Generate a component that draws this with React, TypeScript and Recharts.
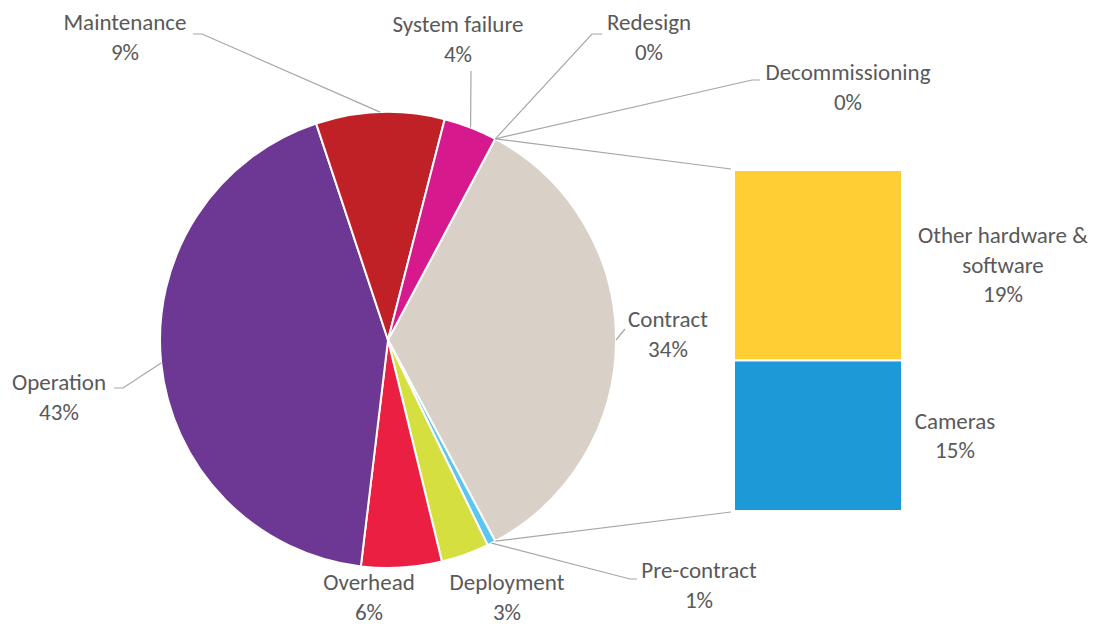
import React from "react";
import { Bar, BarChart, Cell, Pie, PieChart, XAxis, YAxis } from "recharts";

// pie slices, clockwise starting at the split-off slice
const PIE_NAMES = [
  "Contract",
  "Pre-contract",
  "Deployment",
  "Overhead",
  "Operation",
  "Maintenance",
  "System failure",
  "Redesign",
  "Decommissioning",
];
const PIE_VALUES = [34.4, 0.6, 3.4, 5.7, 43.0, 9.1, 3.8, 0, 0];
const PIE_COLORS = [
  "#D9D0C7",
  "#5CC6F1",
  "#D6DF40",
  "#EB1F42",
  "#6D3894",
  "#BF2127",
  "#D6198D",
  "#A5A5A5",
  "#7F7F7F",
];

// breakdown of "Contract", bottom to top
const BAR_NAMES = ["Cameras", "Other hardware & software"];
const BAR_VALUES = [15.2, 19.2];
const BAR_COLORS = ["#1B9AD7", "#FFCD34"];

const W = 1096;
const H = 624;
const PIE = { cx: 388, cy: 340, r: 228 };
const BAR = { left: 734, right: 902, top: 170, bottom: 511 };
const TEXT = "#595959";
const LEADER = "#A6A6A6";
const FONT = "Calibri, Carlito, Lato, sans-serif";
const FS = 23;
const LH = 29.5;
const NO_MARGIN = { top: 0, right: 0, bottom: 0, left: 0 };

// label placement: text centre x, first baseline y, leader polyline (label end)
const PIE_LABELS: Record<string, { x: number; y: number; lines: string[]; leader?: number[][] }> = {
  Contract: { x: 668, y: 327, lines: ["Contract"], leader: [[625, 329]] },
  "Pre-contract": { x: 699, y: 578, lines: ["Pre-contract"], leader: [[637, 579], [630, 579]] },
  Deployment: { x: 507, y: 590, lines: ["Deployment"] },
  Overhead: { x: 369, y: 590, lines: ["Overhead"] },
  Operation: { x: 59, y: 390, lines: ["Operation"], leader: [[114, 388], [123, 388]] },
  Maintenance: { x: 125, y: 30, lines: ["Maintenance"], leader: [[193, 34], [202, 34]] },
  "System failure": { x: 458, y: 32, lines: ["System failure"], leader: [[471, 71]] },
  Redesign: { x: 649, y: 30, lines: ["Redesign"], leader: [[602, 34], [592, 34]] },
  Decommissioning: { x: 848, y: 80, lines: ["Decommissioning"], leader: [[760, 80], [752, 80]] },
};
const BAR_LABELS: Record<string, { dx: number; lines: string[] }> = {
  Cameras: { dx: 53, lines: ["Cameras"] },
  "Other hardware & software": { dx: 101, lines: ["Other hardware &", "software"] },
};

const RAD = Math.PI / 180;
const polar = (cx: number, cy: number, r: number, a: number) => ({
  x: cx + r * Math.cos(-a * RAD),
  y: cy + r * Math.sin(-a * RAD),
});

const pieData = PIE_NAMES.map((name, i) => ({ name, value: PIE_VALUES[i] }));
const barData = [
  BAR_NAMES.reduce((row: Record<string, any>, n, i) => ({ ...row, [n]: BAR_VALUES[i] }), { name: "Contract" }),
];
const pieTotal = PIE_VALUES.reduce((a, b) => a + b, 0);
const splitHalf = (PIE_VALUES[0] / pieTotal) * 180;

function Label({ x, y, lines }: { x: number; y: number; lines: string[] }) {
  return (
    <text x={x} y={y} textAnchor="middle" fill={TEXT} fontSize={FS} fontFamily={FONT}>
      {lines.map((l, i) => (
        <tspan key={i} x={x} dy={i === 0 ? 0 : LH}>
          {l}
        </tspan>
      ))}
    </text>
  );
}

function renderPieLabel(props: any) {
  const { cx, cy, outerRadius, midAngle, startAngle, endAngle, index, percent } = props;
  const name = PIE_NAMES[index];
  const lay = PIE_LABELS[name];
  const edge = polar(cx, cy, outerRadius, midAngle);
  const pct = `${Math.round(percent * 100)}%`;
  const pts = lay.leader ? [...lay.leader, [edge.x, edge.y]] : null;
  let series = null;
  if (index === 0) {
    const a = polar(cx, cy, outerRadius, startAngle);
    const b = polar(cx, cy, outerRadius, endAngle);
    series = (
      <g stroke={LEADER} strokeWidth={1.2} fill="none">
        <line x1={a.x} y1={a.y} x2={BAR.left - 3} y2={BAR.top - 1} />
        <line x1={b.x} y1={b.y} x2={BAR.left - 3} y2={BAR.bottom + 1} />
      </g>
    );
  }
  return (
    <g key={name}>
      {series}
      {pts && (
        <polyline points={pts.map((p) => p.join(",")).join(" ")} fill="none" stroke={LEADER} strokeWidth={1.2} />
      )}
      <Label x={lay.x} y={lay.y} lines={[...lay.lines, pct]} />
    </g>
  );
}

const renderBarLabel = (i: number) => (props: any) => {
  const { x, y, width, height } = props;
  const lay = BAR_LABELS[BAR_NAMES[i]];
  const lines = [...lay.lines, `${Math.round((BAR_VALUES[i] / pieTotal) * 100)}%`];
  const cyMid = y + height / 2;
  const first = cyMid - ((lines.length - 1) * LH) / 2 + FS * 0.33;
  return <Label x={x + width + lay.dx} y={first} lines={lines} />;
};

export default function App() {
  return (
    <div style={{ position: "absolute", left: 0, top: 0, width: W, height: H, background: "#fff" }}>
      <div style={{ position: "absolute", left: 0, top: 0 }}>
        <BarChart
          width={W}
          height={H}
          data={barData}
          margin={{ left: BAR.left, right: W - BAR.right, top: BAR.top, bottom: H - BAR.bottom }}
          barCategoryGap={0}
        >
          <XAxis dataKey="name" hide />
          <YAxis hide domain={[0, "dataMax"]} />
          {BAR_NAMES.map((n, i) => (
            <Bar
              key={n}
              dataKey={n}
              stackId="c"
              fill={BAR_COLORS[i]}
              stroke="#fff"
              strokeWidth={2}
              isAnimationActive={false}
              label={renderBarLabel(i)}
            />
          ))}
        </BarChart>
      </div>
      <div style={{ position: "absolute", left: 0, top: 0, pointerEvents: "none" }}>
        <PieChart width={W} height={H} margin={NO_MARGIN}>
          <Pie
            data={pieData}
            dataKey="value"
            nameKey="name"
            cx={PIE.cx}
            cy={PIE.cy}
            outerRadius={PIE.r}
            startAngle={splitHalf}
            endAngle={splitHalf - 360}
            stroke="#fff"
            strokeWidth={2}
            label={renderPieLabel}
            labelLine={false}
            isAnimationActive={false}
          >
            {pieData.map((d, i) => (
              <Cell key={d.name} fill={PIE_COLORS[i]} />
            ))}
          </Pie>
        </PieChart>
      </div>
    </div>
  );
}
